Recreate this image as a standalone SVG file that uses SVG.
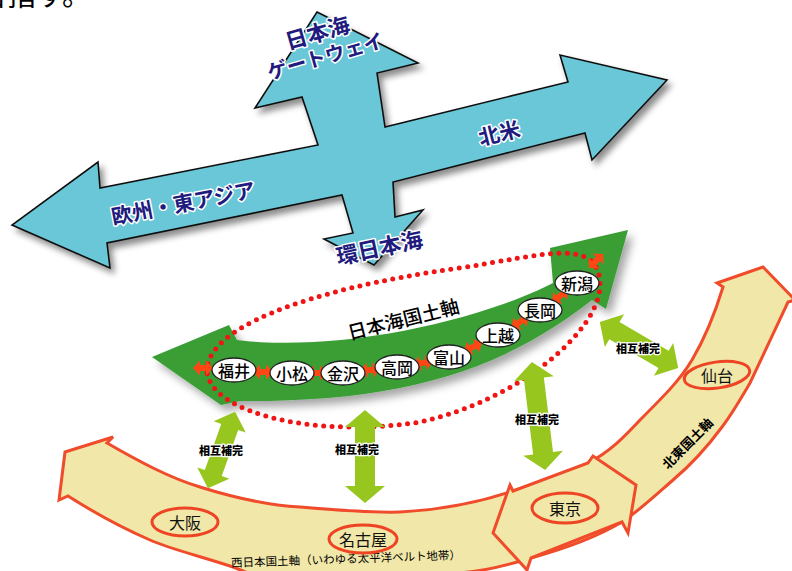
<svg xmlns="http://www.w3.org/2000/svg" xmlns:xlink="http://www.w3.org/1999/xlink" width="792" height="571" viewBox="0 0 792 571">
<defs>
<style>
.jp{font-family:"Noto Sans CJK JP","Noto Sans CJK SC",sans-serif}
.blue{fill:#6ac7d7;stroke:#111;stroke-width:1.6;stroke-linejoin:miter}
.navy{font-family:"Noto Sans CJK JP",sans-serif;font-weight:700;fill:#221b7e;stroke:#fff;stroke-width:3;paint-order:stroke;stroke-linejoin:round;text-anchor:middle;dominant-baseline:central}
.band{fill:#f0e7a8;stroke:#f04b2a;stroke-width:3;stroke-linejoin:miter}
.ring{fill:none;stroke:#ee4424;stroke-width:3}
.rtext{font-family:"Noto Sans CJK JP",sans-serif;font-size:16px;fill:#111;text-anchor:middle;dominant-baseline:central}
.city ellipse{fill:#fff;stroke:#222;stroke-width:1.3}
.city text{font-family:"Noto Sans CJK JP",sans-serif;font-size:16px;font-weight:500;fill:#000;text-anchor:middle;dominant-baseline:central}
.mutual{fill:#97c71f}
.mlabel{font-family:"Noto Sans CJK JP",sans-serif;font-weight:900;font-size:11px;fill:#000;stroke:#fff;stroke-width:2.5;paint-order:stroke;stroke-linejoin:round;text-anchor:middle;dominant-baseline:central}
.red2{fill:#ff4714}
.dots{fill:none;stroke:#f01414;stroke-width:5;stroke-linecap:round;stroke-dasharray:0 8.4}
.black{font-family:"Noto Sans CJK JP",sans-serif;fill:#000;text-anchor:middle;dominant-baseline:central}
</style>
<filter id="sh" x="-10%" y="-10%" width="130%" height="140%">
<feDropShadow dx="4" dy="5" stdDeviation="3" flood-color="#000" flood-opacity="0.45"/>
</filter>
<filter id="shg" x="-10%" y="-20%" width="130%" height="150%">
<feDropShadow dx="5" dy="6" stdDeviation="4" flood-color="#000" flood-opacity="0.35"/>
</filter>
<polygon id="rd" points="-10,0 -3,-7.5 -3,-3 3,-3 3,-7.5 10,0 3,7.5 3,3 -3,3 -3,7.5"/>
</defs>

<text class="jp" x="-22" y="6" font-size="29" fill="#000">目指す。</text>

<g id="blue-cross">
<polygon class="blue" filter="url(#sh)" points="317,12 418,63 377,73 385,127 568,82 560,55 667,80 592,160 585,133 393,182 395,217 423,210 374,265 324,239 353,233 342,195 107,243 110,268 12,225 98,162 100,188 318,145 302,97 255,108"/>
<text class="navy" font-size="22" x="317" y="31" transform="rotate(-16 317 31)">日本海</text>
<text class="navy" font-size="20" x="325" y="55" transform="rotate(-16 325 55)">ゲートウェイ</text>
<text class="navy" font-size="21" x="499" y="132" transform="rotate(-14 499 132)">北米</text>
<text class="navy" font-size="21" x="183" y="202" transform="rotate(-11 183 202)">欧州・東アジア</text>
<text class="navy" font-size="22" x="379" y="246" transform="rotate(-12 379 246)">環日本海</text>
</g>

<g id="band">
<path class="band" d="M65,452 L113,437 L107,443 C140,462 170,478 200,487 C235,498 265,505 300,507 C335,510 370,513 400,512 C440,510 480,502 513,491 C545,481 570,472 588,463 C610,452 625,436 640,420 C665,395 680,380 692,360 C705,338 716,310 723,287 L717,283 L763,267 L795,300 L788,302 C775,330 762,358 750,383 C740,400 732,414 722,427 C708,446 692,464 673,480 C657,494 640,510 622,522 C595,538 560,550 531,558 C505,566 480,572 457,573 C420,582 330,588 290,583 C265,580 250,574 233,567 C200,556 170,549 150,540 C120,527 90,510 68,496 L59,500 Z"/>
<polygon id="tokyo-arrow" class="band" points="493,533 510,485 513,491 588,463 593,456 636,485 628,533 622,522 531,558 527,570"/>
<text class="black" font-size="13" font-weight="700" x="687" y="443" transform="rotate(-45 687 443)">北東国土軸</text>
<text class="black" font-size="11.5" x="346" y="558" transform="rotate(-2 346 558)">西日本国土軸（いわゆる太平洋ベルト地帯）</text>
</g>

<g id="osaka"><ellipse class="ring" cx="185" cy="522" rx="33" ry="14"/><text class="rtext" x="185" y="522">大阪</text></g>
<g id="nagoya"><ellipse class="ring" cx="363" cy="539" rx="34" ry="14"/><text class="rtext" x="363" y="539">名古屋</text></g>
<g id="tokyo"><ellipse class="ring" cx="565" cy="508" rx="33" ry="15"/><text class="rtext" x="565" y="508">東京</text></g>
<g id="sendai"><ellipse class="ring" cx="717" cy="375" rx="33" ry="13" transform="rotate(-8 717 375)"/><text class="rtext" x="717" y="375">仙台</text></g>

<g id="green-axis">
<path fill="#3a9e35" filter="url(#shg)" d="M152,357 L229,325 L237,340 C330,352 470,325 553,283 L550,248 L628,230 L606,309 L592,300 C500,372 400,402 240,401 L221,405 Z"/>
<text class="black" font-size="19" font-weight="500" x="403" y="318" transform="rotate(-14 403 318)">日本海国土軸</text>
</g>

<path id="dotted-ellipse" class="dots" d="M207,372 C205,330 300,290 460,268 C540,256 600,235 600,285 C600,330 520,400 420,422 C320,438 212,415 207,372 Z"/>

<g id="connectors">
<use href="#rd" class="red2" transform="translate(203 368)"/>
<use href="#rd" class="red2" transform="translate(263 372)"/>
<use href="#rd" class="red2" transform="translate(317 373)"/>
<use href="#rd" class="red2" transform="translate(370 370) rotate(-4)"/>
<use href="#rd" class="red2" transform="translate(423 363) rotate(-10)"/>
<use href="#rd" class="red2" transform="translate(473 347) rotate(-25)"/>
<use href="#rd" class="red2" transform="translate(520 322) rotate(-32)"/>
<use href="#rd" class="red2" transform="translate(560 296) rotate(-38)"/>
<use href="#rd" class="red2" transform="translate(596 261) rotate(-45)"/>

<g transform="translate(221.5 450) rotate(109.6)"><polygon class="mutual" points="-40.5,0 -24.5,-17 -24.5,-9 24.5,-9 24.5,-17 40.5,0 24.5,17 24.5,9 -24.5,9 -24.5,17"/></g>
<g transform="translate(365 456.5) rotate(90)"><polygon class="mutual" points="-46.5,0 -29.5,-20 -29.5,-10 29.5,-10 29.5,-20 46.5,0 29.5,20 29.5,10 -29.5,10 -29.5,20"/></g>
<g transform="translate(538.5 416) rotate(83)"><polygon class="mutual" points="-54.5,0 -37.5,-20 -37.5,-10 37.5,-10 37.5,-20 54.5,0 37.5,20 37.5,10 -37.5,10 -37.5,20"/></g>
<g transform="translate(639 345) rotate(30.5)"><polygon class="mutual" points="-45.5,0 -28.5,-19 -28.5,-10 28.5,-10 28.5,-19 45.5,0 28.5,19 28.5,10 -28.5,10 -28.5,19"/></g>
<text class="mlabel" x="221" y="450">相互補完</text>
<text class="mlabel" x="357" y="449">相互補完</text>
<text class="mlabel" x="537" y="419">相互補完</text>
<text class="mlabel" x="638" y="348">相互補完</text>
</g>

<g id="fukui" class="city"><ellipse cx="234" cy="370" rx="22" ry="12"/><text x="234" y="370">福井</text></g>
<g id="komatsu" class="city"><ellipse cx="292" cy="373" rx="22" ry="12"/><text x="292" y="373">小松</text></g>
<g id="kanazawa" class="city"><ellipse cx="343" cy="373" rx="22" ry="12"/><text x="343" y="373">金沢</text></g>
<g id="takaoka" class="city"><ellipse cx="397" cy="367" rx="22" ry="12"/><text x="397" y="367">高岡</text></g>
<g id="toyama" class="city"><ellipse cx="449" cy="357" rx="22" ry="12"/><text x="449" y="357">富山</text></g>
<g id="joetsu" class="city"><ellipse cx="498" cy="335" rx="22" ry="12"/><text x="498" y="335">上越</text></g>
<g id="nagaoka" class="city"><ellipse cx="540" cy="310" rx="22" ry="12"/><text x="540" y="310">長岡</text></g>
<g id="niigata" class="city"><ellipse cx="577" cy="283" rx="22" ry="12"/><text x="577" y="283">新潟</text></g>
</svg>
